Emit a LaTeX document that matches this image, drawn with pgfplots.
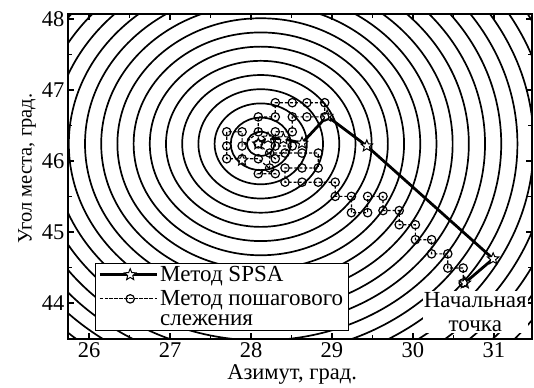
\documentclass[border=0pt]{standalone}
\usepackage{fontspec}
\setmainfont{Liberation Serif}
\usepackage{pgfplots}
\usepackage{pgfplotstable}
\pgfplotsset{compat=1.18}
\pgfdeclareplotmark{ostar}{%
  \pgfpathmoveto{\pgfpointpolar{90}{\pgfplotmarksize}}%
  \pgfpathlineto{\pgfpointpolar{126}{0.45\pgfplotmarksize}}%
  \pgfpathlineto{\pgfpointpolar{162}{\pgfplotmarksize}}%
  \pgfpathlineto{\pgfpointpolar{198}{0.45\pgfplotmarksize}}%
  \pgfpathlineto{\pgfpointpolar{234}{\pgfplotmarksize}}%
  \pgfpathlineto{\pgfpointpolar{270}{0.45\pgfplotmarksize}}%
  \pgfpathlineto{\pgfpointpolar{306}{\pgfplotmarksize}}%
  \pgfpathlineto{\pgfpointpolar{342}{0.45\pgfplotmarksize}}%
  \pgfpathlineto{\pgfpointpolar{18}{\pgfplotmarksize}}%
  \pgfpathlineto{\pgfpointpolar{54}{0.45\pgfplotmarksize}}%
  \pgfpathclose
  \pgfusepathqfillstroke}

\pgfplotstableread{
x y
30.64 44.28
30.99 44.62
29.43 46.21
28.94 46.63
28.63 46.25
28.40 46.31
28.21 46.32
28.09 46.24
}\spsa

\pgfplotstableread{
x y
30.62 44.28
30.62 44.49
30.43 44.49
30.43 44.69
30.23 44.69
30.23 44.89
30.03 44.89
30.03 45.10
29.83 45.10
29.83 45.30
29.63 45.30
29.63 45.50
29.44 45.50
29.44 45.27
29.24 45.27
29.24 45.50
29.04 45.50
29.04 45.70
28.83 45.70
28.63 45.70
28.42 45.70
28.42 45.90
28.63 45.90
28.83 45.90
28.83 46.11
28.63 46.11
28.42 46.11
28.23 46.11
28.23 45.90
28.09 45.82
28.30 45.82
28.09 46.03
27.89 46.03
27.70 46.03
27.70 46.21
27.70 46.41
27.89 46.41
27.89 46.21
28.09 46.41
28.09 46.62
28.30 46.62
28.30 46.82
28.51 46.82
28.69 46.82
28.91 46.82
28.91 46.62
28.69 46.62
28.51 46.62
28.51 46.41
28.30 46.41
28.30 46.21
28.51 46.21
28.30 46.03
28.09 46.24
}\track

\pgfplotstableread{
x y
27.89 46.01
}\extra

\begin{document}
\begin{tikzpicture}
\begin{axis}[
  scale only axis, width=464pt, height=325pt,
  xmin=25.74, xmax=31.47, ymin=43.49, ymax=48.07,
  xtick={26,27,28,29,30,31}, ytick={44,45,46,47,48},
  minor x tick num=1, minor y tick num=1,
  tick align=inside, major tick length=6pt, minor tick length=4pt,
  tick style={line width=1.5pt, black},
  axis line style={line width=2.5pt},
  /pgf/number format/assume math mode=true,
  ticklabel style={font=\fontsize{22.5}{24}\selectfont},
  xlabel style={font=\fontsize{22.5}{24}\selectfont, at={(ticklabel cs:0.483)}},
  ylabel style={font=\fontsize{20.5}{24}\selectfont, at={(ticklabel cs:0.525)}, yshift=-1pt},
  xlabel={Азимут, град.}, ylabel={Угол места, град.},
  legend style={at={(0.058,0.234)}, anchor=north west,
    font=\fontsize{23}{21}\selectfont, cells={anchor=west},
    draw=black, line width=0.8pt, inner xsep=3pt, inner ysep=1pt, row sep=3.5pt},
  legend image code/.code={\path (-9pt,0pt) -- (48pt,0pt);\draw[mark repeat=2,mark phase=2,#1] plot coordinates {(0pt,0pt) (21.5pt,0pt) (43pt,0pt)};},
]
\pgfplotsinvokeforeach{0.17,0.37,0.57,0.77,0.97,1.17,1.37,1.57,1.77,1.97,2.17,2.37,2.57,2.77,2.97,3.17,3.37,3.57,3.77,3.97,4.17,4.37}{
  \draw[line width=1.7pt] (axis cs:28.12,46.24) ellipse [x radius=#1, y radius=#1];
}
\node[fill=white, inner sep=1pt, align=center, font=\fontsize{23}{24}\selectfont] at (axis cs:30.77,43.87) {Начальная\\точка};
\addplot[line width=2.8pt, mark=ostar, mark size=6pt, mark options={fill=white, line width=1pt}] table {\spsa};
\addlegendentry{Метод SPSA}
\addplot[line width=1.2pt, dash pattern=on 3pt off 2pt, mark=o, mark size=4.2pt, mark options={solid, fill=white, line width=1.2pt}] table {\track};
\addlegendentry{Метод пошагового}
\addlegendimage{empty legend}
\addlegendentry{слежения}
\addplot[only marks, mark=ostar, mark size=6pt, mark options={fill=white, line width=1pt}, forget plot] table {\extra};
\end{axis}
\path ([xshift=-68pt,yshift=-47pt]current axis.south west) rectangle ([xshift=2pt,yshift=14pt]current axis.north east);
\end{tikzpicture}
\end{document}
